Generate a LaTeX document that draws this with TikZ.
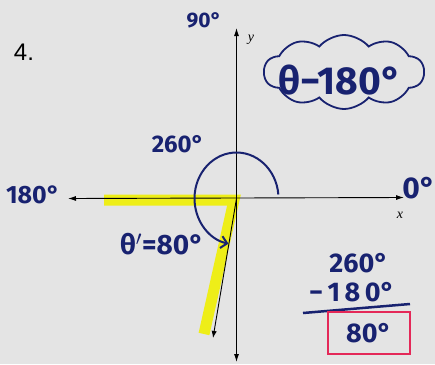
\documentclass[tikz,border=0pt]{standalone}
\usepackage{fontspec}
\setmainfont{Fira Sans}
\newfontfamily\printfont{Liberation Sans}
\newfontfamily\axisfont{Liberation Serif}
\usepackage{xcolor}
\usetikzlibrary{arrows.meta,shapes.symbols}
\definecolor{ink}{RGB}{24,34,112}
\definecolor{marker}{RGB}{238,238,24}
\definecolor{paper}{RGB}{228,228,228}
\definecolor{boxred}{RGB}{228,40,88}

\begin{document}
\begin{tikzpicture}[
    x=1pt, y=-1pt,
    >=Latex,
    axis/.style={black, line width=0.9pt, {Latex[length=8pt,width=5pt]}-{Latex[length=8pt,width=5pt]}},
    hand/.style={text=ink, inner sep=0pt, font=\bfseries\fontsize{#1}{#1}\selectfont},
    hand/.default=26,
    axlbl/.style={inner sep=0pt, font=\axisfont\itshape\fontsize{14}{14}\selectfont},
    pen/.style={draw=ink, line width=2pt},
    glow/.style={marker, line width=11pt, line join=miter}
]
\fill[paper] (0,0) rectangle (435,364);
\useasboundingbox (0,0) rectangle (435,364);

\coordinate (O) at (236.5,198.5);
\coordinate (xl) at (68,198.5);
\coordinate (xr) at (404,197.5);
\coordinate (yt) at (236.5,28);
\coordinate (yb) at (236.5,362);
\coordinate (term) at (213,338);
\coordinate (hlA) at (104,200);
\coordinate (hlB) at (234,200);
\coordinate (hlC) at (204,334);
\coordinate (barL) at (303,313);
\coordinate (barR) at (410,304);

\draw[glow] (hlA) -- (hlB) -- (hlC);

\draw[axis] (xl) -- (xr);
\draw[axis] (yb) -- (yt);
\draw[black, line width=0.9pt, ->] (O) -- (term);

\draw[pen, -{Straight Barb[length=6pt,width=12pt]}] ([shift={(-5:42 and 46)}]O)
    arc[start angle=-5, end angle=-259, x radius=42, y radius=46];

\node[inner sep=0pt, font=\printfont\fontsize{24}{24}\selectfont] (num) at (24,52) {4.};
\node[axlbl] (ylbl) at (251,40) {y};
\node[axlbl] (xlbl) at (400,215) {x};

\node[hand=21] (deg90) at (204,20) {90°};
\node[hand=25] (deg180) at (33,195) {180°};
\node[hand=30] (deg0) at (419,188) {0°};
\node[hand=24] (arclbl) at (178,144) {260°};
\node[hand=28] (ref) at (162,244) {θ$^{\prime}$=80°};

\node[cloud, pen, line width=1.8pt, cloud puffs=10, cloud puff arc=100, aspect=2.2,
      minimum width=160, minimum height=74] (cloud) at (344,72) {};
\node[hand=39] (rule) at (340,80) {θ−180°};

\node[hand=27] (top) at (359,263) {260°};
\node[hand=27] (sub) at (352,292) {−\,1\,8\,0°};
\draw[pen, line width=2.5pt] (barL) -- (barR);
\node[hand=27, draw=boxred, line width=2pt, minimum width=82, minimum height=42] (ans) at (369,333) {80°};
\end{tikzpicture}
\end{document}
